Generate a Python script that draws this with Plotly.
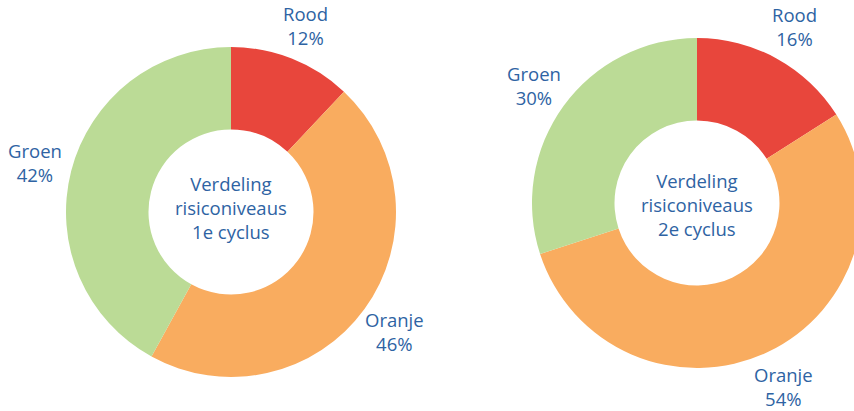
import math
import plotly.graph_objects as go

categories = ["Rood", "Oranje", "Groen"]
values_cyclus1 = [12, 46, 42]
values_cyclus2 = [16, 54, 30]
center_titles = ["Verdeling<br>risiconiveaus<br>1e cyclus", "Verdeling<br>risiconiveaus<br>2e cyclus"]
colors = ["#E8463C", "#F9AC5F", "#BBDB96"]
text_color = "#2E63A3"

W, H = 870, 411
R = 165          # outer radius in px
LABEL_R = 202    # label distance from centre in px
LABEL_DY = 1     # small downward nudge of labels in px
centers = [(231, 212), (697, 203)]
title_y = [207, 205]

def dom(cx, cy, r):
    return dict(x=[(cx - r) / W, (cx + r) / W], y=[1 - (cy + r) / H, 1 - (cy - r) / H])

font = dict(family="Open Sans", size=18.5, color=text_color)

fig = go.Figure()
for vals, (cx, cy), title, ty in zip([values_cyclus1, values_cyclus2], centers, center_titles, title_y):
    fig.add_trace(go.Pie(
        labels=categories, values=vals, hole=0.5, sort=False, direction="clockwise",
        rotation=0, marker=dict(colors=colors, line=dict(width=0)),
        textinfo="none", domain=dom(cx, cy, R), showlegend=False,
        hoverinfo="label+percent",
    ))
    total = sum(vals)
    cum = 0
    for lab, v in zip(categories, vals):
        mid = (cum + v / 2) / total * 2 * math.pi
        cum += v
        lx = cx + LABEL_R * math.sin(mid)
        ly = cy - LABEL_R * math.cos(mid) + LABEL_DY
        fig.add_annotation(text=f"{lab}<br>{round(v / total * 100)}%", x=lx / W, y=1 - ly / H,
                           xref="paper", yref="paper", xanchor="center", yanchor="middle",
                           showarrow=False, font=font, borderpad=0)
    fig.add_annotation(text=title, x=cx / W, y=1 - ty / H, xref="paper", yref="paper",
                       xanchor="center", yanchor="middle", showarrow=False, font=font)

fig.update_layout(width=W, height=H, margin=dict(l=0, r=0, t=0, b=0),
                  paper_bgcolor="white", plot_bgcolor="white")

fig.write_html("out.html", config={"displayModeBar": False},
               post_script="document.body.style.margin='0';document.body.style.overflow='hidden';")
